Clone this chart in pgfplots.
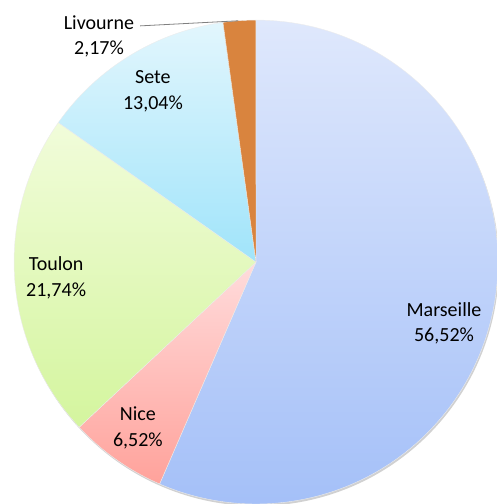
\documentclass[border=0pt]{standalone}
\usepackage{fontspec}
\setmainfont{Carlito}
\usepackage{pgfplots}
\usepackage{pgfplotstable}
\pgfplotsset{compat=1.18}

% slice colours (top / bottom of the gradient)
\definecolor{top0}{HTML}{DFE8FC}\definecolor{bot0}{HTML}{A3BFF8}
\definecolor{top1}{HTML}{FFDCDC}\definecolor{bot1}{HTML}{FFA29B}
\definecolor{top2}{HTML}{F1FCDA}\definecolor{bot2}{HTML}{D4F59E}
\definecolor{top3}{HTML}{E2F6FD}\definecolor{bot3}{HTML}{A0E4FA}
\definecolor{top4}{HTML}{D9843E}\definecolor{bot4}{HTML}{D9843E}

\pgfplotstableread{
name      value
Marseille 56.52
Nice      6.52
Toulon    21.74
Sete      13.04
Livourne  2.17
}\piedata

% cumulative angles, clockwise from 12 o'clock
\xdef\cum{90}
\pgfplotstableforeachcolumnelement{value}\of\piedata\as\v{%
  \pgfmathsetmacro\endang{\cum-3.6*\v}%
  \expandafter\xdef\csname sa\pgfplotstablerow\endcsname{\cum}%
  \expandafter\xdef\csname ea\pgfplotstablerow\endcsname{\endang}%
  \xdef\cum{\endang}%
}
\newcommand\R{181.5pt}

\begin{document}
\begin{tikzpicture}
\begin{axis}[
  name=pie,
  scale only axis,
  x=181.5pt, y=181.5pt,
  xmin=-1.058, xmax=0.996,
  ymin=-1.0, ymax=1.083,
  hide axis,
  nodes={font=\fontsize{15}{19.2}\selectfont, align=center, text=black},
]
  % soft shadow
  \fill[black!18] (axis cs:0.004,-0.008) circle[radius=\R];
  \pgfplotsinvokeforeach{0,...,4}{
    \shade[top color=top#1, bottom color=bot#1, draw=white!85!gray, line width=0.3pt]
      (axis cs:0,0) -- ++({\csname sa#1\endcsname}:\R)
      arc[start angle=\csname sa#1\endcsname, end angle=\csname ea#1\endcsname, radius=\R]
      -- cycle;
  }
  \draw[gray, line width=0.6pt] (axis cs:-0.479,0.976) -- (axis cs:-0.074,0.997);

  \node at (axis cs:0.777,-0.254) {Marseille\\56,52\%};
  \node at (axis cs:-0.488,-0.686) {Nice\\6,52\%};
  \node at (axis cs:-0.826,-0.065) {Toulon\\21,74\%};
  \node at (axis cs:-0.426,0.705) {Sete\\13,04\%};
  \node at (axis cs:-0.649,0.933) {Livourne\\2,17\%};
\end{axis}
\pgfresetboundingbox
\useasboundingbox (pie.south west) rectangle (pie.north east);
\end{tikzpicture}
\end{document}
